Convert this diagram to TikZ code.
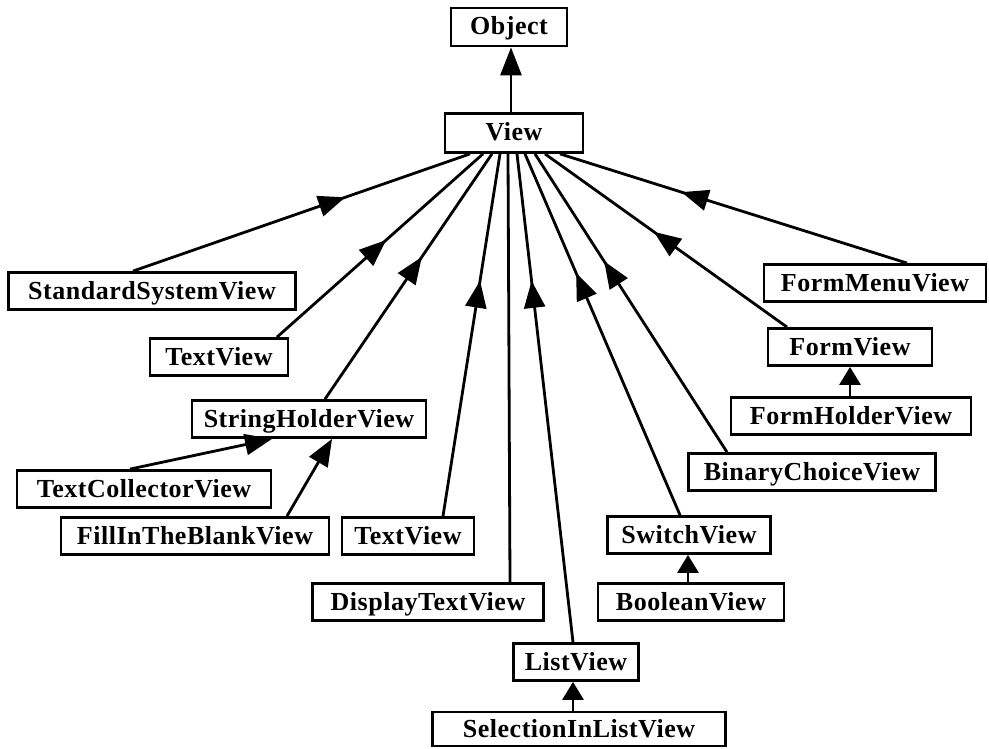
\documentclass[tikz,border=0pt]{standalone}
\usepackage{fontspec}
\setmainfont{Liberation Serif}
\usetikzlibrary{arrows.meta,decorations.markings}

\tikzset{
	box/.style={draw, line width=2.8pt, minimum height=37pt, inner sep=1pt,
		text height=19pt, text depth=3pt,
		font=\bfseries\fontsize{26}{28}\selectfont\addfontfeatures{LetterSpace=2}},
	link/.style={line width=2.8pt},
	isa/.style={link, postaction={decorate},
		decoration={markings, mark=at position #1 with {\arrow{Triangle[length=27pt,width=21pt]}}}},
	isaend/.style={link, -{Triangle[length=#1,width=21pt]}}
}

\begin{document}
\begin{tikzpicture}[x=1pt,y=-1pt]
	\useasboundingbox (0,0) rectangle (989,749);

	% classes
	\node[box, minimum width=116pt, minimum height=38pt] (object) at (509,27) {Object};
	\node[box, minimum width=138pt, minimum height=39pt] (view) at (514,133) {View};

	\node[box, minimum width=287pt] (standard) at (152,291) {StandardSystemView};
	\node[box, minimum width=138pt] (textleft) at (219,357) {TextView};
	\node[box, minimum width=234pt] (stringholder) at (309,419) {StringHolderView};
	\node[box, minimum width=254pt] (collector) at (144,489) {TextCollectorView};
	\node[box, minimum width=268pt] (fillin) at (195,536) {FillInTheBlankView};
	\node[box, minimum width=132pt] (textmid) at (408,536) {TextView};
	\node[box, minimum width=231pt] (display) at (428,602) {DisplayTextView};
	\node[box, minimum width=125pt] (list) at (576,662) {ListView};
	\node[box, minimum width=293pt, minimum height=34pt] (selection) at (579,729) {SelectionInListView};
	\node[box, minimum width=163pt] (switch) at (689,535) {SwitchView};
	\node[box, minimum width=186pt] (boolean) at (691,602) {BooleanView};
	\node[box, minimum width=222pt] (formmenu) at (875,283) {FormMenuView};
	\node[box, minimum width=164pt] (form) at (850,347) {FormView};
	\node[box, minimum width=240pt] (formholder) at (851,416) {FormHolderView};
	\node[box, minimum width=247pt] (binary) at (812,472) {BinaryChoiceView};

	% inheritance
	\draw[isaend=28pt] ([xshift=-3pt]view.north) -- ([xshift=2pt]object.south);

	\draw[isa=0.63] ([xshift=-19pt]standard.north) -- ([xshift=-44pt]view.south);
	\draw[isa=0.53] ([xshift=58pt]textleft.north) -- ([xshift=-31pt]view.south);
	\draw[isa=0.58] ([xshift=16pt]stringholder.north) -- ([xshift=-22pt]view.south);
	\draw[isa=0.65] ([xshift=35pt]textmid.north) -- ([xshift=-14pt]view.south);
	\draw[link] ([xshift=82pt]display.north) -- ([xshift=-6pt]view.south);
	\draw[isa=0.74] ([xshift=-3pt]list.north) -- ([xshift=3pt]view.south);
	\draw[isa=0.67] ([xshift=-9pt]switch.north) -- ([xshift=11pt]view.south);
	\draw[isa=0.64] ([xshift=-85pt]binary.north) -- ([xshift=21pt]view.south);
	\draw[isa=0.55] ([xshift=-63pt]form.north) -- ([xshift=31pt]view.south);
	\draw[isa=0.65] ([xshift=32pt]formmenu.north) -- ([xshift=46pt]view.south);

	\draw[isaend=27pt] ([xshift=-14pt]collector.north) -- ([xshift=-37pt]stringholder.south);
	\draw[isaend=27pt] ([xshift=92pt]fillin.north) -- ([xshift=23pt]stringholder.south);

	\draw[isaend=18pt] ([xshift=-1pt]formholder.north) -- (form.south);
	\draw[isaend=18pt] ([xshift=-3pt]boolean.north) -- ([xshift=-1pt]switch.south);
	\draw[isaend=18pt] ([xshift=-6pt]selection.north) -- ([xshift=-3pt]list.south);
\end{tikzpicture}
\end{document}
